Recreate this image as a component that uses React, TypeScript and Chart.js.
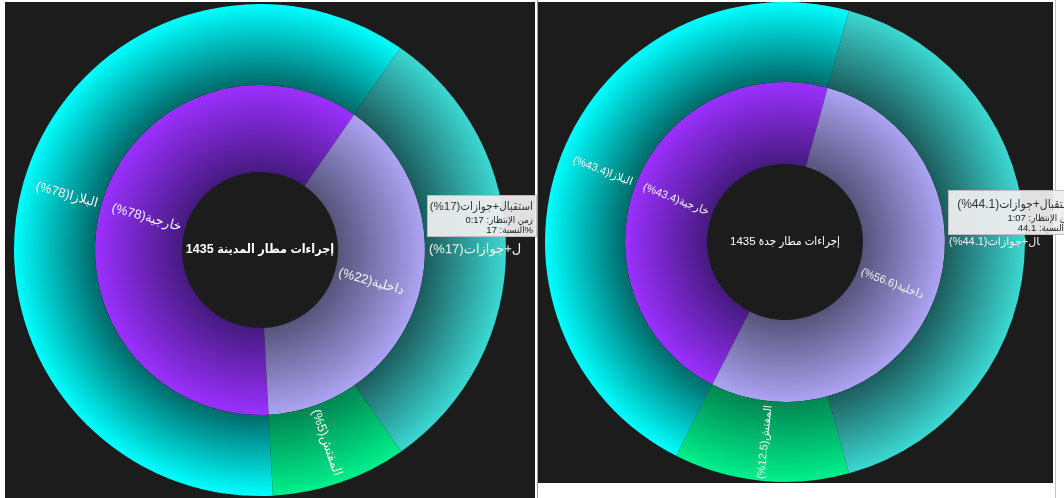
import React, { useEffect, useRef } from 'react';
import { Chart, registerables } from 'chart.js';

Chart.register(...registerables);

// ---------- data ----------
const outerCategories = ['البلازا', 'استقبال+جوازات', 'المفتش'];
const innerCategories = ['خارجية', 'داخلية'];

// Madinah airport 1435 (arc sizes as drawn, % of circle)
const madinahOuterValues = [60.5, 30.6, 8.9];
const madinahInnerValues = [60.5, 39.5];
const madinahOuterPct = ['78%', '17%', '5%'];
const madinahInnerPct = ['78%', '22%'];
const madinahTitle = 'إجراءات مطار المدينة 1435';
const madinahTooltip = ['استقبال+جوازات(17%)', 'زمن الإنتظار: 0:17', '%النسبة: 17'];

// Jeddah airport 1435
const jeddahOuterValues = [46.8, 41.4, 11.8];
const jeddahInnerValues = [46.8, 53.2];
const jeddahOuterPct = ['43.4%', '44.1%', '12.5%'];
const jeddahInnerPct = ['43.4%', '56.6%'];
const jeddahTitle = 'إجراءات مطار جدة 1435';
const jeddahTooltip = ['استقبال+جوازات(44.1%)', 'زمن الإنتظار: 1:07', '% النسبة: 44.1'];

// ---------- styles ----------
const FONT = "'Liberation Sans', 'DejaVu Sans', Arial, sans-serif";
const FONT_C = "'Liberation Sans', 'DejaVu Sans Condensed', 'DejaVu Sans', Arial, sans-serif";
const BG = '#1c1c1c';
const outerColors = [
  ['#006a6a', '#00ffff'],
  ['#1c5c5c', '#3cd8d2'],
  ['#008652', '#00f08c'],
];
const innerColors = [
  ['#461a80', '#9b30ff'],
  ['#57547c', '#aca4f3'],
];

function gradientFill(colors: string[][]) {
  return (c: any) => {
    const chart = c.chart;
    const area = chart.chartArea;
    const pair = colors[c.dataIndex % colors.length];
    if (!area) return pair[1];
    const ctrl: any = chart.getDatasetMeta(c.datasetIndex).controller;
    const r0 = ctrl.innerRadius || 0;
    const r1 = ctrl.outerRadius || 0;
    if (!r1) return pair[1];
    const cx = (area.left + area.right) / 2;
    const cy = (area.top + area.bottom) / 2;
    const g = chart.ctx.createRadialGradient(cx, cy, r0, cx, cy, r1);
    g.addColorStop(0, pair[0]);
    g.addColorStop(1, pair[1]);
    return g;
  };
}

function makeLabelPlugin(texts: string[][], font: string, pad: number, title: string, titleFont: string) {
  return {
    id: 'sunLabels',
    afterDatasetsDraw(chart: any) {
      const ctx = chart.ctx;
      chart.data.datasets.forEach((_ds: any, di: number) => {
        const meta = chart.getDatasetMeta(di);
        meta.data.forEach((arc: any, i: number) => {
          const mid = (arc.startAngle + arc.endAngle) / 2;
          const r = arc.innerRadius + pad;
          const px = arc.x + Math.cos(mid) * r;
          const py = arc.y + Math.sin(mid) * r;
          const right = Math.cos(mid) >= -1e-6;
          ctx.save();
          ctx.translate(px, py);
          ctx.rotate(right ? mid : mid + Math.PI);
          ctx.font = font;
          ctx.direction = 'rtl';
          ctx.textAlign = right ? 'left' : 'right';
          ctx.textBaseline = 'middle';
          ctx.fillStyle = '#f2f2f2';
          ctx.fillText(texts[di][i], 0, 0);
          ctx.restore();
        });
      });
      const a = chart.chartArea;
      ctx.save();
      ctx.font = titleFont;
      ctx.direction = 'rtl';
      ctx.textAlign = 'center';
      ctx.textBaseline = 'middle';
      ctx.fillStyle = '#ffffff';
      ctx.fillText(title, (a.left + a.right) / 2, (a.top + a.bottom) / 2);
      ctx.restore();
    },
  };
}

type SunProps = {
  left: number; top: number; width: number; height: number;
  padding: { left: number; right: number; top: number; bottom: number };
  outerValues: number[]; innerValues: number[];
  outerPct: string[]; innerPct: string[];
  rotation: number; cutout: string; outerWeight: number; innerWeight: number;
  labelFont: string; title: string; titleFont: string;
};

function Sunburst(p: SunProps) {
  const ref = useRef<HTMLCanvasElement>(null);
  useEffect(() => {
    if (!ref.current) return;
    const outerTexts = outerCategories.map((c, i) => `${c}(${p.outerPct[i]})`);
    const innerTexts = innerCategories.map((c, i) => `${c}(${p.innerPct[i]})`);
    const chart = new Chart(ref.current, {
      type: 'doughnut',
      data: {
        labels: outerCategories,
        datasets: [
          {
            data: p.outerValues,
            weight: p.outerWeight,
            borderWidth: 0,
            backgroundColor: gradientFill(outerColors),
          } as any,
          {
            data: p.innerValues,
            weight: p.innerWeight,
            borderWidth: 0,
            backgroundColor: gradientFill(innerColors),
          } as any,
        ],
      },
      options: {
        responsive: false,
        animation: false,
        events: [],
        rotation: p.rotation,
        cutout: p.cutout,
        layout: { padding: p.padding },
        plugins: { legend: { display: false }, tooltip: { enabled: false } },
      } as any,
      plugins: [makeLabelPlugin([outerTexts, innerTexts], p.labelFont, 4, p.title, p.titleFont)],
    });
    return () => chart.destroy();
  }, []);
  return (
    <canvas
      ref={ref}
      width={p.width}
      height={p.height}
      style={{ position: 'absolute', left: p.left, top: p.top, width: p.width, height: p.height }}
    />
  );
}

function TipBox({ left, top, width, lines, padTop, titleSize }: { left: number; top: number; width: number; lines: string[]; padTop: number; titleSize: number }) {
  return (
    <div
      dir="rtl"
      style={{
        position: 'absolute', left, top, width, boxSizing: 'border-box',
        background: 'rgba(238,238,238,0.94)', border: '1px solid #bdbdbd',
        paddingTop: padTop, paddingRight: 3, paddingBottom: 1,
        fontFamily: FONT_C, textAlign: 'right', whiteSpace: 'nowrap', overflow: 'hidden',
      }}
    >
      <div style={{ fontSize: titleSize, lineHeight: '16px', color: '#333' }}>{lines[0]}</div>
      <div style={{ fontSize: 9.5, lineHeight: '11px', color: '#222' }}>{lines[1]}</div>
      <div style={{ fontSize: 9.5, lineHeight: '10px', color: '#222' }}>{lines[2]}</div>
    </div>
  );
}

export default function App() {
  return (
    <div style={{ position: 'fixed', left: 0, top: 0, width: 1064, height: 498, overflow: 'hidden', background: '#ffffff' }}>
      <div style={{ position: 'absolute', left: 5, top: 2, width: 530, height: 496, background: BG }} />
      <div style={{ position: 'absolute', left: 537, top: 0, width: 1, height: 498, background: '#9a9a9a' }} />
      <div style={{ position: 'absolute', left: 538, top: 2, width: 515, height: 481, background: BG }} />
      <div style={{ position: 'absolute', left: 1055, top: 0, width: 1, height: 498, background: '#c4c4c4' }} />

      <Sunburst
        left={5} top={2} width={516} height={496}
        padding={{ left: 9, right: 15, top: 2, bottom: 2 }}
        outerValues={madinahOuterValues} innerValues={madinahInnerValues}
        outerPct={madinahOuterPct} innerPct={madinahInnerPct}
        rotation={177} cutout="31.7%" outerWeight={81} innerWeight={87}
        labelFont={`13px ${FONT}`} title={madinahTitle} titleFont={`bold 12.5px ${FONT_C}`}
      />
      <Sunburst
        left={538} top={2} width={502} height={481}
        padding={{ left: 7, right: 15, top: 0, bottom: 1 }}
        outerValues={jeddahOuterValues} innerValues={jeddahInnerValues}
        outerPct={jeddahOuterPct} innerPct={jeddahInnerPct}
        rotation={207} cutout="32.5%" outerWeight={80} innerWeight={82}
        labelFont={`11px ${FONT}`} title={jeddahTitle} titleFont={`11.5px ${FONT_C}`}
      />

      <TipBox left={427} top={195} width={110} lines={madinahTooltip} padTop={2} titleSize={11.5} />
      <TipBox left={948} top={190} width={131} lines={jeddahTooltip} padTop={5} titleSize={12} />
    </div>
  );
}
